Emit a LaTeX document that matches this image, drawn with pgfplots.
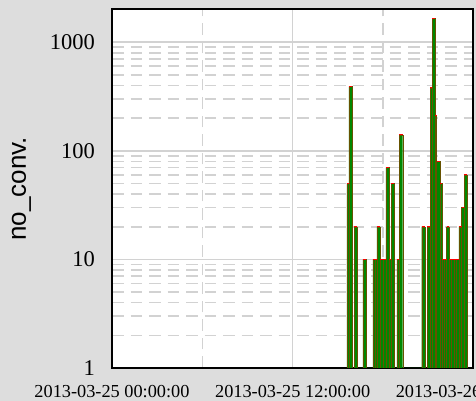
\documentclass[border=0pt]{standalone}
\usepackage{fontspec}
\setmainfont{Liberation Serif}
\newfontfamily\sansfont{Liberation Sans}
\usepackage{pgfplots}
\pgfplotsset{compat=1.18}
\definecolor{bgc}{RGB}{221,221,221}
\definecolor{gridc}{RGB}{210,210,210}
\definecolor{barg}{RGB}{0,136,0}
\pgfplotstableread{
x y
15.605 50
15.737 390
15.936 0.5
16.088 20
16.287 0.5
16.664 10
16.863 0.5
17.327 10
17.459 10
17.591 20
17.810 10
17.999 10
18.187 70
18.426 10
18.538 50
18.757 0.5
18.915 10
19.088 140
19.313 0.5
20.571 20
20.789 0.5
20.942 20
21.153 380
21.273 1650
21.451 210
21.564 80
21.782 50
21.948 10
22.087 10
22.226 20
22.398 10
22.559 10
22.720 10
22.880 10
23.040 20
23.219 30
23.391 60
23.570 0.5
}\conv
\pagecolor{bgc}
\begin{document}
\begin{tikzpicture}
\begin{axis}[
  set layers,
  at={(112pt,33pt)}, anchor=south west,
  scale only axis, width=361.3pt, height=358.5pt,
  xmin=0, xmax=24, ymin=1, ymax=2000, ymode=log,
  axis background/.style={fill=white},
  axis line style={line width=2pt, black, on layer=axis foreground},
  xtick={0,12,24},
  xticklabels={2013-03-25 00:00:00,2013-03-25 12:00:00,2013-03-26 00:00:00},
  minor xtick={6,18},
  ytick={1,10,100,1000}, yticklabels={1,10,100,1000},
  minor ytick={2,3,4,5,6,7,8,9,20,30,40,50,60,70,80,90,200,300,400,500,600,700,800,900},
  major tick length=0pt, minor tick length=0pt,
  grid=both,
  major grid style={solid, line width=1.5pt, gridc},
  minor grid style={dash pattern=on 11.5pt off 7pt, line width=1.6pt, gridc},
  xticklabel style={font=\fontsize{18.3}{20}\selectfont, inner sep=0pt, yshift=-17pt},
  yticklabel style={font=\fontsize{22.5}{24}\selectfont, inner sep=0pt, xshift=-17pt},
  ylabel={no\_conv.},
  every axis y label/.style={at={(rel axis cs:0,0.5)}, rotate=90, anchor=center, inner sep=0pt, yshift=90.5pt, font=\sansfont\fontsize{26}{28}\selectfont},
]
\addplot[ybar interval, fill=barg, draw=red!40!barg, line width=0.35pt] table[x=x,y=y] {\conv};
\addplot[jump mark left, red, line width=0.9pt] table[x=x,y=y] {\conv};
\end{axis}
\pgfresetboundingbox
\useasboundingbox (0,0) rectangle (476pt,401pt);
\end{tikzpicture}
\end{document}
